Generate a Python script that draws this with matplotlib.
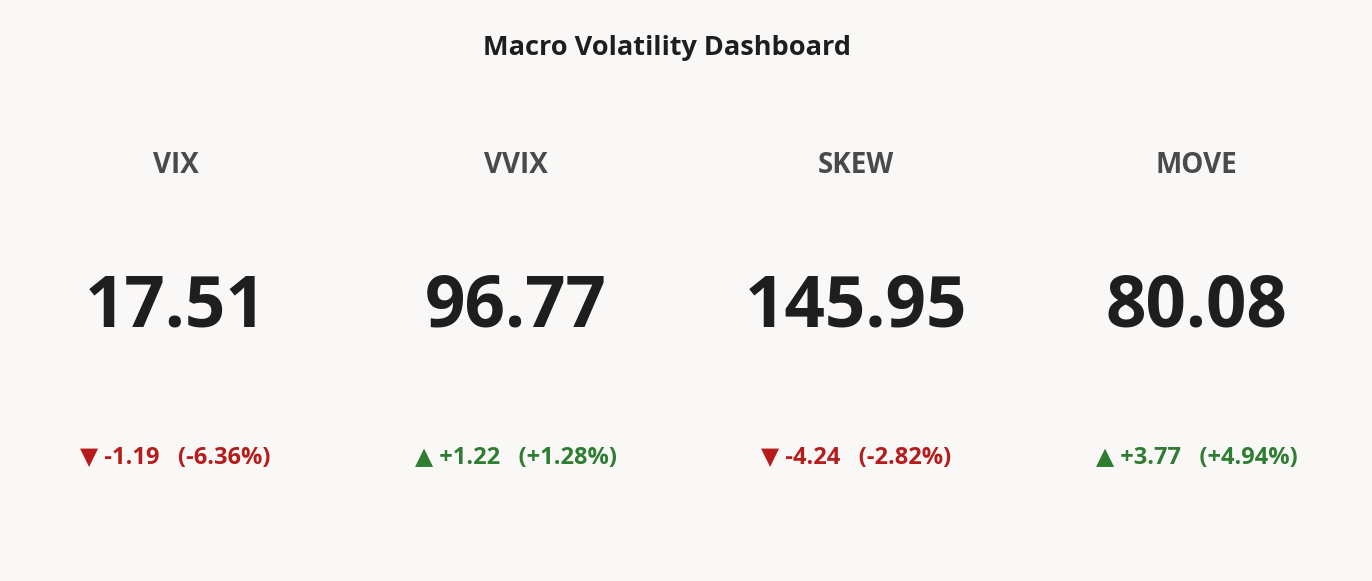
import matplotlib
matplotlib.use("Agg")
import matplotlib.pyplot as plt

# dashboard data
names = ["VIX", "VVIX", "SKEW", "MOVE"]
values = [17.51, 96.77, 145.95, 80.08]
changes = [-1.19, 1.22, -4.24, 3.77]
pct_changes = [-6.36, 1.28, -2.82, 4.94]

BG = "#f9f8f6"
RED = "#b71c1c"
GREEN = "#2e7d32"
FAMILY = ["Open Sans", "DejaVu Sans"]

fig = plt.figure(figsize=(13.72, 5.81), dpi=100, facecolor=BG)
fig.text(0.486, 0.918, "Macro Volatility Dashboard", ha="center", va="center",
         fontsize=19.5, fontweight="bold", color="#1e1e1e", family=FAMILY)

xs = [0.128, 0.376, 0.624, 0.872]
for x, name, val, ch, pct in zip(xs, names, values, changes, pct_changes):
    fig.text(x, 0.716, name, ha="center", va="center", fontsize=20,
             fontweight="bold", color="#4a4a4a", family=FAMILY)
    fig.text(x, 0.470, f"{val:.2f}", ha="center", va="center", fontsize=51,
             fontweight="bold", color="#1e1e1e", family=FAMILY)
    up = ch >= 0
    arrow = "▲" if up else "▼"
    color = GREEN if up else RED
    fig.text(x, 0.212, f"{arrow} {ch:+.2f}   ({pct:+.2f}%)", ha="center", va="center",
             fontsize=17, fontweight="bold", color=color, family=FAMILY)

fig.savefig("out.png", dpi=100, facecolor=BG)
